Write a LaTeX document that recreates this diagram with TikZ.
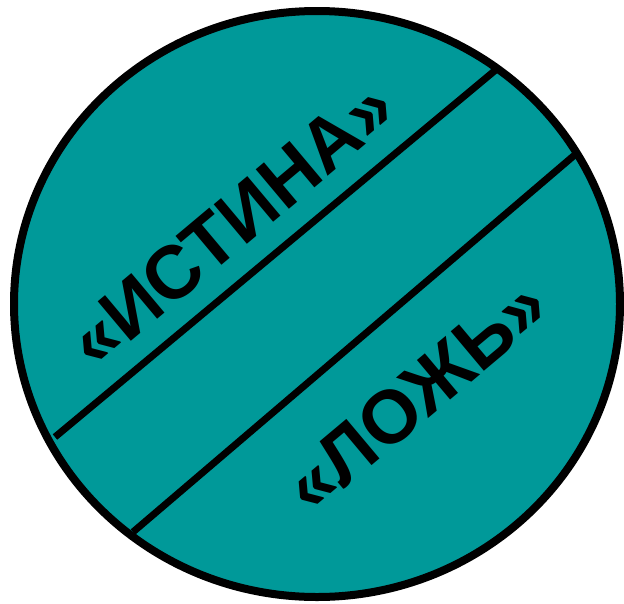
\documentclass[tikz,border=0pt]{standalone}
\usepackage{fontspec}
\setmainfont{Liberation Sans}
\definecolor{tealfill}{HTML}{009999}
\begin{document}
\begin{tikzpicture}[x=1pt,y=-1pt,
  divider/.style={line width=7pt,black},
  label/.style={font=\bfseries\fontsize{75}{80}\selectfont,rotate=40,inner sep=0pt}]
\useasboundingbox (0,0) rectangle (624,603);
\draw[line width=8pt,fill=tealfill] (317,304) ellipse [x radius=303,y radius=293];
\coordinate (a1) at (55,437);
\coordinate (a2) at (498,68);
\coordinate (b1) at (133,532);
\coordinate (b2) at (577,153);
\draw[divider] (a1) -- (a2);
\draw[divider] (b1) -- (b2);
\node[label] (truth) at (231,224) {«ИСТИНА»};
\node[label] (lie) at (416,395) {«ЛОЖЬ»};
\end{tikzpicture}
\end{document}
